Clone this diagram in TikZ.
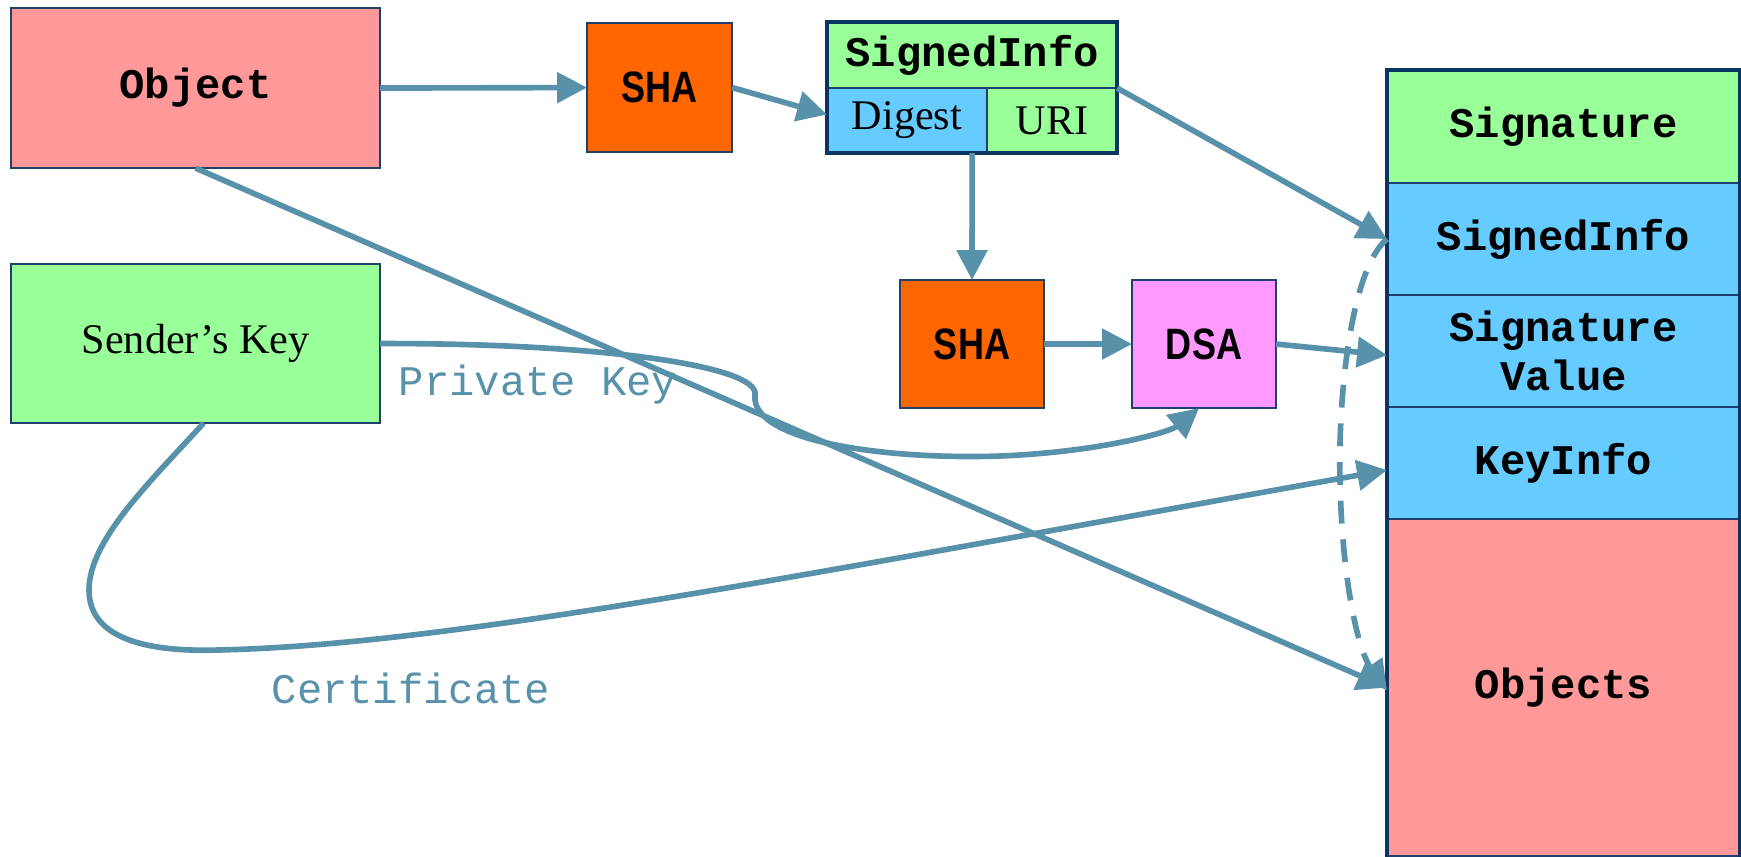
\documentclass[tikz,border=0pt]{standalone}
\usepackage{fontspec}
\setmainfont{Liberation Serif}
\newfontfamily\cour{Liberation Mono}
\newfontfamily\narrowsf[FakeStretch=0.82]{Liberation Sans}
\usetikzlibrary{arrows.meta}
\definecolor{connc}{HTML}{5891AA}
\definecolor{edgec}{HTML}{1F3F6F}
\definecolor{navyc}{HTML}{0B3461}
\definecolor{pinkc}{HTML}{FF9999}
\definecolor{orangec}{HTML}{FF6600}
\definecolor{greenc}{HTML}{99FF99}
\definecolor{bluec}{HTML}{66CCFF}
\definecolor{magc}{HTML}{FF99FF}
\begin{document}
\begin{tikzpicture}[x=0.01cm,y=-0.01cm,
 box/.style={draw=edgec, line width=0.5pt, inner sep=0pt, outer sep=0pt, anchor=north west},
 frame/.style={draw=navyc, line width=1.2pt, inner sep=0pt, outer sep=0pt, anchor=north west},
 code/.style={font=\cour\bfseries\fontsize{12}{14}\selectfont},
 shaf/.style={font=\narrowsf\bfseries\fontsize{12.5}{14}\selectfont},
 serif/.style={font=\fontsize{12}{14}\selectfont},
 lbl/.style={text=connc, font=\cour\fontsize{12}{14}\selectfont},
 arr/.style={draw=connc, line width=1.6pt, -{Triangle[length=8.5pt,width=8.5pt]}},
]
\useasboundingbox (0,0) rectangle (1741,856);
% left column
\node[box, fill=pinkc, minimum width=3.69cm, minimum height=1.60cm, code] (object) at (11,8) {Object};
\node[box, fill=greenc, minimum width=3.69cm, minimum height=1.59cm, serif] (sender) at (11,264) {Sender’s Key};
% SHA 1
\node[box, fill=orangec, minimum width=1.45cm, minimum height=1.29cm, shaf] (sha1) at (587,23) {SHA};
% SignedInfo compound
\node[box, fill=greenc, minimum width=2.90cm, minimum height=0.66cm, code] (sitop) at (827,22) {SignedInfo};
\node[box, fill=bluec, minimum width=1.60cm, minimum height=0.65cm, serif] (digest) at (827,88) {Digest};
\node[box, fill=greenc, minimum width=1.30cm, minimum height=0.65cm, serif] (uri) at (987,88) {URI};
\node[frame, minimum width=2.90cm, minimum height=1.31cm] (siginfo) at (827,22) {};
% SHA 2 and DSA
\node[box, fill=orangec, minimum width=1.44cm, minimum height=1.28cm, shaf] (sha2) at (900,280) {SHA};
\node[box, fill=magc, minimum width=1.44cm, minimum height=1.28cm, shaf] (dsa) at (1132,280) {DSA};
% right stack
\node[box, fill=greenc, minimum width=3.53cm, minimum height=1.13cm, code] (sig) at (1387,70) {Signature};
\node[box, fill=bluec, minimum width=3.53cm, minimum height=1.12cm, code] (ssi) at (1387,183) {SignedInfo};
\node[box, fill=bluec, minimum width=3.53cm, minimum height=1.12cm, code, align=center] (sigval) at (1387,295) {Signature\\Value};
\node[box, fill=bluec, minimum width=3.53cm, minimum height=1.12cm, code] (keyinfo) at (1387,407) {KeyInfo};
\node[box, fill=pinkc, minimum width=3.53cm, minimum height=3.37cm, code] (objects) at (1387,519) {Objects};
\node[frame, minimum width=3.53cm, minimum height=7.95cm] (stack) at (1387,70) {};
% labels
\node[lbl] (pk) at (538,385) {Private Key};
\node[lbl] (cert) at (411,688) {Certificate};
% connectors
\draw[arr] (object.east) -- (sha1.west);
\draw[arr] (sha1.east) -- ([yshift=0.06cm]digest.west);
\draw[arr] (sitop.south east) -- (ssi.west);
\draw[arr] (siginfo.south) -- (sha2.north);
\draw[arr] (sha2.east) -- (dsa.west);
\draw[arr] (dsa.east) -- ([yshift=-0.04cm]sigval.west);
\draw[arr] (object.south) -- (objects.west);
\draw[arr] (sender.east) .. controls (600,343) and (760,366) .. (755,395)
  .. controls (750,440) and (880,460) .. (1000,456)
  .. controls (1100,452) and (1170,432) .. ([xshift=-0.05cm]dsa.south);
\draw[arr] ([xshift=0.08cm]sender.south) .. controls (150,482) and (89,540) .. (89,590)
  .. controls (89,640) and (150,652) .. (218,650)
  .. controls (450,645) and (800,575) .. ([yshift=-0.07cm]keyinfo.west);
\draw[arr, dash pattern=on 6.5pt off 4.5pt] (ssi.west) .. controls (1350,270) and (1338,400) .. (1340,480)
  .. controls (1342,580) and (1358,650) .. ([yshift=-0.03cm]objects.west);
\end{tikzpicture}
\end{document}
